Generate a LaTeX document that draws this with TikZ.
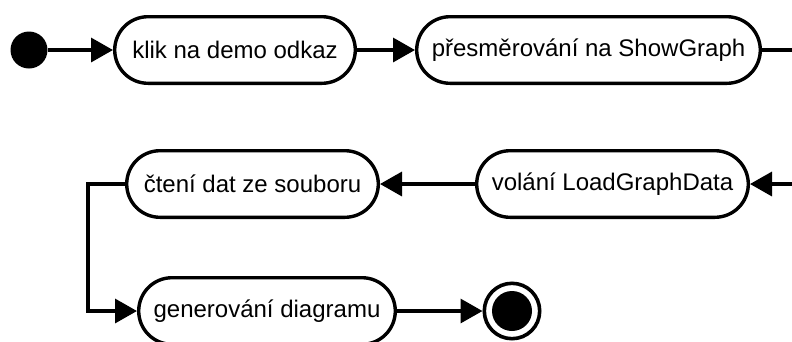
\documentclass[tikz,border=0pt]{standalone}
\usepackage{fontspec}
\setmainfont{Liberation Sans}
\usetikzlibrary{arrows.meta}
\begin{document}
\begin{tikzpicture}[x=1pt,y=-1pt,
  actbox/.style={draw, line width=3.4pt, rectangle, rounded corners=33.3pt,
    minimum height=66.6pt, inner sep=0pt, font=\fontsize{24}{28}\selectfont},
  flow/.style={line width=3.4pt, -{Triangle[length=22pt,width=24pt]}},
  initial/.style={circle, fill, minimum size=37pt, inner sep=0pt},
  finalring/.style={circle, draw, line width=3.6pt, minimum size=55.4pt, inner sep=0pt},
  finaldot/.style={circle, fill, minimum size=40pt, inner sep=0pt}]
  \clip (0,0) rectangle (792,341);
  % states of the activity
  \node[initial] (start) at (29,50) {};
  \node[actbox, minimum width=240.6pt] (klik) at (235,50) {klik na demo odkaz};
  \node[actbox, minimum width=343.6pt] (redir) at (588.5,50) {přesměrování na ShowGraph};
  \node[actbox, minimum width=271.6pt] (load) at (612.5,184) {volání LoadGraphData};
  \node[actbox, minimum width=251.6pt] (read) at (252.5,184) {čtení dat ze souboru};
  \node[actbox, minimum width=256.6pt] (gen) at (267,311) {generování diagramu};
  \node[finalring] (end) at (512,311) {};
  \node[finaldot] (enddot) at (end) {};
  \coordinate (turn) at (815,50);
  % transitions
  \draw[flow] (start) -- (klik);
  \draw[flow] (klik) -- (redir);
  \draw[flow] (redir.east) -- (turn) |- (load.east);
  \draw[flow] (load) -- (read);
  \draw[flow] (read.west) -- ++(-37,0) |- (gen.west);
  \draw[flow] (gen) -- (end);
\end{tikzpicture}
\end{document}
